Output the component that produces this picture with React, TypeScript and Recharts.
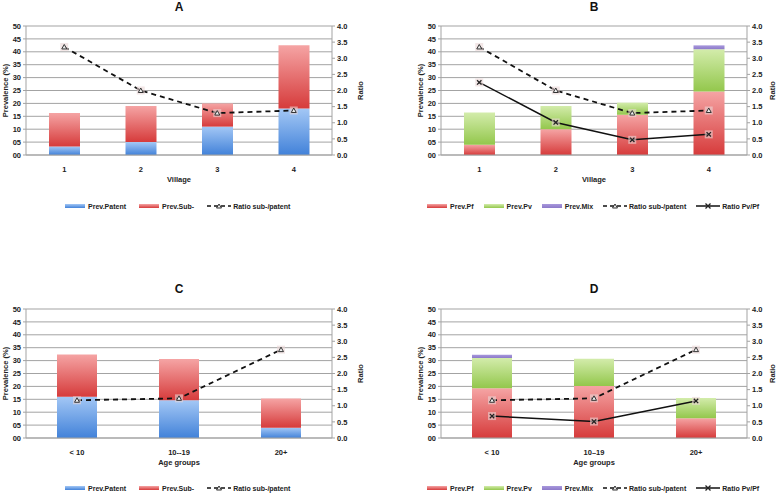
import React from 'react';
import {
  ComposedChart, Bar, Line, XAxis, YAxis, CartesianGrid, Legend, Label,
} from 'recharts';

// villages (panels A, B)
const villages = ['1', '2', '3', '4'];
const villPatent = [3.3, 5.0, 11.0, 18.0];
const villSub = [13.0, 14.0, 9.0, 24.5];
const villRatioSub = [3.35, 2.0, 1.3, 1.38];
const villPf = [4.0, 10.0, 15.6, 24.6];
const villPv = [12.5, 9.0, 4.7, 16.4];
const villMix = [0, 0, 0, 1.5];
const villRatioPvPf = [2.25, 1.01, 0.47, 0.64];

// age groups (panels C, D)
const ageGroups = ['< 10', '10–19', '20+'];
const ageTicksC = ['< 10', '10--19', '20+'];
const agePatent = [16.0, 14.6, 4.0];
const ageSub = [16.4, 16.0, 11.3];
const ageRatioSub = [1.17, 1.23, 2.74];
const agePf = [19.3, 20.2, 7.7];
const agePv = [11.7, 10.5, 7.8];
const ageMix = [1.3, 0, 0];
const ageRatioPvPf = [0.68, 0.51, 1.15];

const prevTicks = [0, 5, 10, 15, 20, 25, 30, 35, 40, 45, 50];
const ratioTicks = [0, 0.5, 1, 1.5, 2, 2.5, 3, 3.5, 4];

const villageRows = villages.map((cat, i) => ({
  cat,
  patent: villPatent[i],
  sub: villSub[i],
  ratioSub: villRatioSub[i],
  pf: villPf[i],
  pv: villPv[i],
  mix: villMix[i],
  ratioPvPf: villRatioPvPf[i],
}));

const ageRows = ageGroups.map((cat, i) => ({
  cat,
  patent: agePatent[i],
  sub: ageSub[i],
  ratioSub: ageRatioSub[i],
  pf: agePf[i],
  pv: agePv[i],
  mix: ageMix[i],
  ratioPvPf: ageRatioPvPf[i],
}));

const FONT = '"Liberation Sans", Arial, sans-serif';
const GRID = '#a3a3a3';

const GRADS: Record<string, [string, string]> = {
  blue: ['#a3c7f5', '#4282d9'],
  red: ['#f5a4a4', '#d63b3b'],
  green: ['#d3ecab', '#93c74c'],
  purple: ['#a898dc', '#8c79c9'],
};

type BarDef = { key: string; name: string; grad: string };
type LineDef = { key: string; name: string; dashed: boolean };

const patentBars: BarDef[] = [
  { key: 'patent', name: 'Prev.Patent', grad: 'blue' },
  { key: 'sub', name: 'Prev.Sub-', grad: 'red' },
];
const speciesBars: BarDef[] = [
  { key: 'pf', name: 'Prev.Pf', grad: 'red' },
  { key: 'pv', name: 'Prev.Pv', grad: 'green' },
  { key: 'mix', name: 'Prev.Mix', grad: 'purple' },
];
const subLine: LineDef[] = [{ key: 'ratioSub', name: 'Ratio sub-/patent', dashed: true }];
const bothLines: LineDef[] = [
  { key: 'ratioSub', name: 'Ratio sub-/patent', dashed: true },
  { key: 'ratioPvPf', name: 'Ratio Pv/Pf', dashed: false },
];

const TriDot = (props: any) => {
  const { cx, cy, index } = props;
  if (cx == null || cy == null) return null;
  return (
    <g key={`tri-${index}`}>
      <rect x={cx - 4} y={cy - 4} width={8} height={8} fill="#e9d6d6" opacity={0.6} />
      <path d={`M${cx - 2.5},${cy + 2} L${cx},${cy - 2.5} L${cx + 2.5},${cy + 2} Z`} fill="#eee" stroke="#333" strokeWidth={1} />
    </g>
  );
};

const CrossDot = (props: any) => {
  const { cx, cy, index } = props;
  if (cx == null || cy == null) return null;
  return (
    <g key={`x-${index}`}>
      <rect x={cx - 4} y={cy - 4} width={8} height={8} fill="#e9d6d6" opacity={0.6} />
      <path d={`M${cx - 2.2},${cy - 2.2} L${cx + 2.2},${cy + 2.2} M${cx + 2.2},${cy - 2.2} L${cx - 2.2},${cy + 2.2}`} stroke="#222" strokeWidth={1.3} />
    </g>
  );
};

const LegendLine = ({ dashed }: { dashed: boolean }) => (
  <svg width={24} height={8} style={{ display: 'block' }}>
    <line x1={0} y1={4} x2={24} y2={4} stroke="#111" strokeWidth={1.5} strokeDasharray={dashed ? '4 3' : undefined} />
    {dashed ? (
      <path d="M9.5,6 L12,2 L14.5,6 Z" fill="#eee" stroke="#333" strokeWidth={1} />
    ) : (
      <path d="M9.5,1.5 L14.5,6.5 M14.5,1.5 L9.5,6.5" stroke="#222" strokeWidth={1.3} />
    )}
  </svg>
);

interface PanelProps {
  x: number;
  y: number;
  title: string;
  titleY: number;
  data: any[];
  tickLabels: string[];
  bars: BarDef[];
  lines: LineDef[];
  plotTop: number;
  plotBottom: number;
  leftW: number;
  rightW: number;
  ratioLabelDx: number;
  xLabel: string;
  legendTop: number;
  legendLeft: number;
  legendGap: number;
  barSize: number;
  gid: string;
}

const W = 389;
const H = 247;
const X_AXIS_H = 32;

const Panel: React.FC<PanelProps> = (p) => {
  const plotCenter = (p.leftW + (W - p.rightW)) / 2;
  const tickStyle = { fontSize: 7.5, fontWeight: 'bold' as const, fill: '#222', fontFamily: FONT };

  const renderLegend = () => (
    <div
      style={{
        display: 'flex', alignItems: 'center', gap: p.legendGap, paddingLeft: p.legendLeft,
        fontFamily: FONT, fontSize: 7, fontWeight: 'bold', color: '#222', whiteSpace: 'nowrap',
      }}
    >
      {p.bars.map((b) => (
        <div key={b.key} style={{ display: 'flex', alignItems: 'center', gap: 3 }}>
          <div style={{ width: 20, height: 4, background: `linear-gradient(${GRADS[b.grad][0]}, ${GRADS[b.grad][1]})` }} />
          <span>{b.name}</span>
        </div>
      ))}
      {p.lines.map((l) => (
        <div key={l.key} style={{ display: 'flex', alignItems: 'center', gap: 2 }}>
          <LegendLine dashed={l.dashed} />
          <span>{l.name}</span>
        </div>
      ))}
    </div>
  );

  return (
    <div style={{ position: 'absolute', left: p.x, top: p.y, width: W, height: H }}>
      <div
        style={{
          position: 'absolute', left: plotCenter - 20, width: 40, top: p.titleY - 7, textAlign: 'center',
          fontFamily: FONT, fontWeight: 'bold', fontSize: 12, color: '#111', lineHeight: '14px',
        }}
      >
        {p.title}
      </div>
      <ComposedChart
        width={W}
        height={H}
        data={p.data}
        margin={{ top: p.plotTop, right: 0, left: 0, bottom: H - p.plotBottom - X_AXIS_H }}
        barCategoryGap={0}
      >
        <defs>
          {Object.keys(GRADS).map((g) => (
            <linearGradient key={g} id={`${p.gid}-${g}`} x1="0" y1="0" x2="0" y2="1">
              <stop offset="0%" stopColor={GRADS[g][0]} />
              <stop offset="100%" stopColor={GRADS[g][1]} />
            </linearGradient>
          ))}
        </defs>
        <CartesianGrid yAxisId="left" vertical={false} stroke={GRID} strokeWidth={1} />
        <XAxis
          dataKey="cat"
          height={X_AXIS_H}
          stroke={GRID}
          tickLine={false}
          tickMargin={6}
          tick={tickStyle}
          tickFormatter={(_v: any, i: number) => p.tickLabels[i]}
        >
          <Label
            content={({ viewBox }: any) => (
              <text
                x={viewBox.x + viewBox.width / 2}
                y={viewBox.y + 27}
                textAnchor="middle"
                fontFamily={FONT}
                fontSize={7.5}
                fontWeight="bold"
                fill="#222"
              >
                {p.xLabel}
              </text>
            )}
          />
        </XAxis>
        <YAxis
          yAxisId="left"
          width={p.leftW}
          domain={[0, 50]}
          ticks={prevTicks}
          interval={0}
          stroke={GRID}
          tickSize={3}
          tickMargin={2}
          tick={tickStyle}
          tickFormatter={(v: number) => String(v).padStart(2, '0')}
        >
          <Label
            content={({ viewBox }: any) => {
              const lx = viewBox.x + viewBox.width - 21;
              const ly = p.plotTop + (p.plotBottom - p.plotTop) / 2;
              return (
                <text
                  x={lx}
                  y={ly}
                  transform={`rotate(-90 ${lx} ${ly})`}
                  textAnchor="middle"
                  dominantBaseline="central"
                  fontFamily={FONT}
                  fontSize={7.5}
                  fontWeight="bold"
                  fill="#222"
                >
                  Prevalence (%)
                </text>
              );
            }}
          />
        </YAxis>
        <YAxis
          yAxisId="right"
          orientation="right"
          width={p.rightW}
          domain={[0, 4]}
          ticks={ratioTicks}
          interval={0}
          stroke={GRID}
          tickSize={3}
          tickMargin={2}
          tick={tickStyle}
          tickFormatter={(v: number) => v.toFixed(1)}
        >
          <Label
            content={({ viewBox }: any) => {
              const lx = viewBox.x + p.ratioLabelDx;
              const ly = p.plotTop + (p.plotBottom - p.plotTop) / 2;
              return (
                <text
                  x={lx}
                  y={ly}
                  transform={`rotate(-90 ${lx} ${ly})`}
                  textAnchor="middle"
                  dominantBaseline="central"
                  fontFamily={FONT}
                  fontSize={7.5}
                  fontWeight="bold"
                  fill="#222"
                >
                  Ratio
                </text>
              );
            }}
          />
        </YAxis>
        <Legend
          verticalAlign="middle"
          align="center"
          layout="horizontal"
          wrapperStyle={{ top: p.legendTop - 5, left: 0, width: W, height: 10 }}
          content={renderLegend}
        />
        {p.bars.map((b) => (
          <Bar
            key={b.key}
            yAxisId="left"
            dataKey={b.key}
            name={b.name}
            stackId="prev"
            barSize={p.barSize}
            fill={`url(#${p.gid}-${b.grad})`}
            isAnimationActive={false}
          />
        ))}
        {p.lines.map((l) => (
          <Line
            key={l.key}
            yAxisId="right"
            dataKey={l.key}
            name={l.name}
            type="linear"
            stroke="#111"
            strokeWidth={l.dashed ? 1.8 : 1.5}
            strokeDasharray={l.dashed ? '5 4' : undefined}
            dot={l.dashed ? TriDot : CrossDot}
            activeDot={false}
            isAnimationActive={false}
          />
        ))}
      </ComposedChart>
    </div>
  );
};

export default function App() {
  return (
    <div style={{ position: 'absolute', left: 0, top: 0, width: 778, height: 494, background: '#fff', overflow: 'hidden' }}>
      <Panel
        x={0} y={0} title="A" titleY={7} data={villageRows} tickLabels={villages}
        bars={patentBars} lines={subLine}
        plotTop={26} plotBottom={155} leftW={26} rightW={57} ratioLabelDx={28}
        xLabel="Village" legendTop={207} legendLeft={65} legendGap={13} barSize={31} gid="ga"
      />
      <Panel
        x={389} y={0} title="B" titleY={7} data={villageRows} tickLabels={villages}
        bars={speciesBars} lines={bothLines}
        plotTop={26} plotBottom={155} leftW={52} rightW={31} ratioLabelDx={25}
        xLabel="Village" legendTop={207} legendLeft={38} legendGap={10} barSize={31} gid="gb"
      />
      <Panel
        x={0} y={247} title="C" titleY={42} data={ageRows} tickLabels={ageTicksC}
        bars={patentBars} lines={subLine}
        plotTop={62} plotBottom={191} leftW={26} rightW={57} ratioLabelDx={28}
        xLabel="Age groups" legendTop={242} legendLeft={65} legendGap={13} barSize={40} gid="gc"
      />
      <Panel
        x={389} y={247} title="D" titleY={42} data={ageRows} tickLabels={ageGroups}
        bars={speciesBars} lines={bothLines}
        plotTop={62} plotBottom={191} leftW={52} rightW={31} ratioLabelDx={25}
        xLabel="Age groups" legendTop={242} legendLeft={38} legendGap={10} barSize={40} gid="gd"
      />
    </div>
  );
}
